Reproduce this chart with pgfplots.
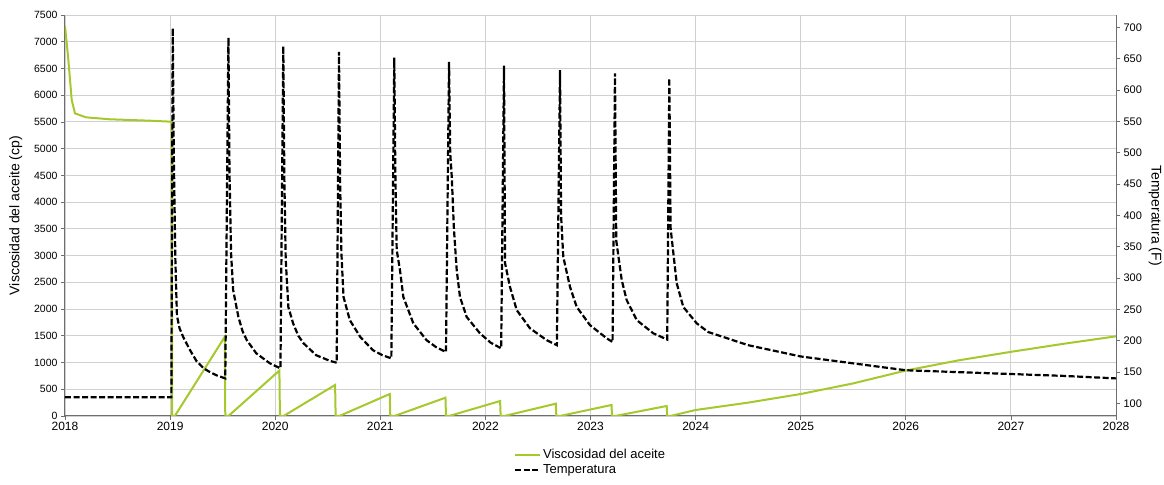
\documentclass[border=0pt]{standalone}
\usepackage{fontspec}
\setmainfont{Liberation Sans}
\usepackage{pgfplots}
\pgfplotsset{compat=1.18}
\usetikzlibrary{calc}
\definecolor{visc}{RGB}{165,200,45}
\definecolor{gridc}{RGB}{208,208,208}
\definecolor{axc}{RGB}{110,110,110}

\pgfplotstableread{
x y
0 7300
0.03 6700
0.064 5910
0.095 5660
0.2 5586
0.43 5549
0.81 5523
1.015 5504
1.02 0
1.045 0
1.52 1480
1.525 0
1.555 0
2.04 850
2.045 0
2.08 0
2.57 580
2.575 0
2.61 0
3.09 411
3.095 0
3.135 0
3.62 342
3.625 0
3.655 0
4.14 280
4.145 0
4.18 0
4.67 230
4.675 0
4.71 0
5.2 206
5.205 0
5.235 0
5.725 187
5.73 0
5.76 0
6.0 112
6.5 250
7.0 411
7.5 610
8.0 850
8.5 1040
9.0 1200
9.5 1350
10.0 1490
}\visctable

\pgfplotstableread{
x y
0 110
1.012 110
1.025 699
1.035 500
1.05 330
1.065 240
1.09 220
1.125 206
1.19 185
1.25 168
1.32 156
1.38 150
1.44 145
1.525 140
1.555 684
1.565 470
1.58 340
1.60 281
1.65 238
1.69 215
1.73 201
1.82 180
1.95 164
2.05 156
2.077 670
2.087 460
2.10 330
2.125 254
2.17 228
2.22 208
2.27 196
2.39 177
2.52 168
2.585 165
2.607 661
2.617 460
2.63 340
2.65 270
2.71 233
2.81 206
2.93 185
3.02 177
3.105 172
3.133 652
3.143 470
3.156 345
3.187 313
3.219 270
3.314 228
3.44 201
3.53 190
3.625 182
3.654 645
3.665 500
3.68 462
3.70 380
3.727 313
3.758 270
3.822 238
3.948 212
4.05 197
4.15 188
4.177 639
4.187 324
4.234 286
4.298 249
4.424 220
4.583 201
4.68 193
4.71 632
4.72 400
4.741 334
4.805 286
4.869 254
4.995 225
5.154 204
5.21 198
5.233 627
5.245 360
5.297 297
5.344 265
5.44 233
5.597 212
5.73 202
5.75 619
5.762 380
5.82 292
5.883 254
6.01 228
6.12 214
6.5 193
7.0 175
7.5 164
8.0 153
8.5 150
9.0 147
9.5 144
10.0 140
}\temptable

\begin{document}
\begin{tikzpicture}
\pgfplotsset{
  every axis/.append style={
    scale only axis, width=1051pt, height=401pt,
    xmin=0, xmax=10,
    /pgf/number format/1000 sep={},
    /pgf/number format/assume math mode=true,
    tick align=outside, major tick length=4pt,
    tick style={axc, line width=0.8pt},
    axis line style={axc, line width=1pt},
  }
}
\begin{axis}[name=ax1,
  ymin=0, ymax=7500,
  axis x line*=bottom, axis y line*=left,
  xtick={0,1,...,10},
  xticklabels={2018,2019,2020,2021,2022,2023,2024,2025,2026,2027,2028},
  ytick={0,500,...,7500},
  grid=major, major grid style={gridc, line width=0.9pt},
  xticklabel style={font=\fontsize{12}{14}\selectfont, yshift=1pt},
  yticklabel style={font=\fontsize{10.5}{12}\selectfont},
  ylabel={Viscosidad del aceite (cp)},
  ylabel style={font=\fontsize{14}{16}\selectfont, yshift=5pt},
]
\addplot[visc, line width=2pt] table[x=x,y=y] {\visctable};
\end{axis}
\begin{axis}[
  ymin=80, ymax=720,
  axis x line=none, axis y line*=right,
  ytick={100,150,...,700},
  yticklabel style={font=\fontsize{11}{13}\selectfont},
  ylabel={Temperatura (F)},
  ylabel style={font=\fontsize{14}{16}\selectfont, rotate=180},
  legend style={at={(0.5,-0.072)}, anchor=north, draw=none, fill=none,
    font=\fontsize{13}{15}\selectfont, row sep=1pt},
  legend cell align=left,
  legend image code/.code={\draw[#1] (0pt,0pt) -- (25pt,0pt);},
]
\addlegendimage{visc, line width=2pt}
\addlegendentry{Viscosidad del aceite}
\addplot[black, line width=2.2pt, dash pattern=on 6pt off 2.5pt] table[x=x,y=y] {\temptable};
\addlegendentry{Temperatura}
\end{axis}
\pgfresetboundingbox
\path ($(ax1.south west)+(-65pt,-69pt)$) rectangle ($(ax1.north east)+(48pt,15pt)$);
\end{tikzpicture}
\end{document}
